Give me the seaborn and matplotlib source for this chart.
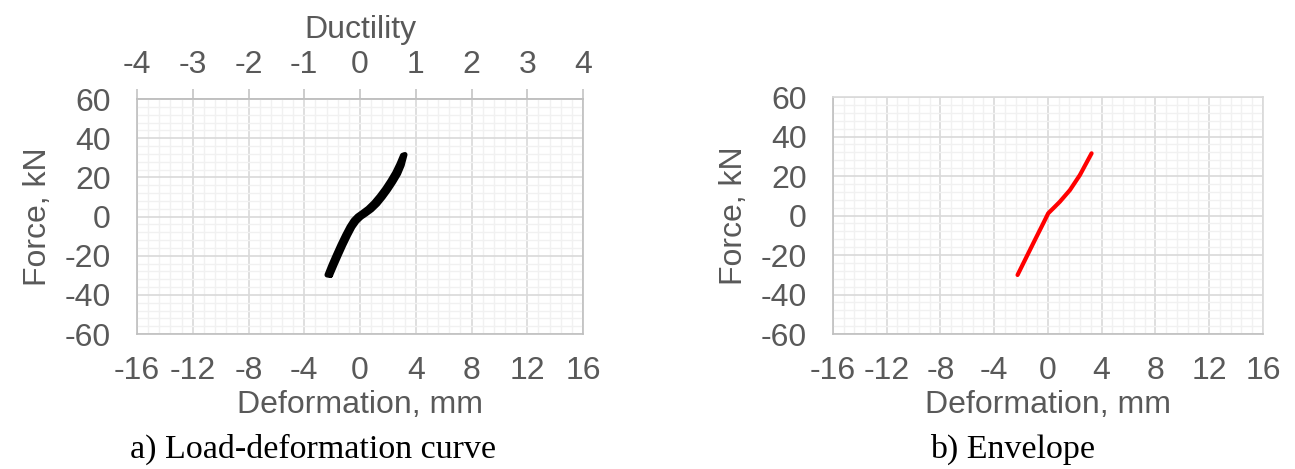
import matplotlib
matplotlib.use("Agg")
import numpy as np
import pandas as pd
import matplotlib.pyplot as plt
from matplotlib.ticker import MultipleLocator
import seaborn as sns

# hysteresis loop (a): loading branch and unloading branch, mm / kN
loop_defo_up = [-2.12, -1.82, -1.50, -1.17, -0.83, -0.52, -0.22, 0.09, 0.42,
                0.84, 1.26, 1.65, 2.04, 2.41, 2.76, 3.02, 3.22]
loop_force_up = [-30.0, -25.0, -19.8, -14.6, -9.6, -5.4, -2.4, -0.3, 1.3,
                 3.5, 6.4, 9.8, 13.6, 17.6, 21.8, 26.2, 31.6]
loop_defo_dn = [3.06, 2.80, 2.50, 2.15, 1.78, 1.38, 0.98, 0.56, 0.15, -0.19,
                -0.49, -0.78, -1.09, -1.43, -1.76, -2.08, -2.36]
loop_force_dn = [31.2, 26.8, 22.4, 18.2, 14.2, 10.4, 7.0, 4.1, 1.9, 0.2,
                 -2.0, -5.2, -9.4, -14.4, -19.6, -24.8, -29.8]

# envelope (b)
env_defo = [-2.26, -1.59, -0.97, -0.35, 0.02, 0.45, 0.89, 1.64, 2.38, 3.25]
env_force = [-30.1, -20.9, -12.4, -4.0, 1.1, 4.0, 7.0, 12.9, 20.5, 31.5]

x_ticks = [-16, -12, -8, -4, 0, 4, 8, 12, 16]
y_ticks = [-60, -40, -20, 0, 20, 40, 60]
ductility_ticks = [-4, -3, -2, -1, 0, 1, 2, 3, 4]
yield_defo = 4.0  # mm per unit ductility

sns.set_style("white")
plt.rcParams["font.family"] = ["Liberation Sans", "DejaVu Sans"]
plt.rcParams["axes.unicode_minus"] = False

TXT = "#595959"
AXC = "#BFBFBF"
MAJ = "#D9D9D9"
MIN = "#F1F1F1"
FS = 23


def style_axes(ax, border_col):
    ax.set_xlim(-16, 16)
    ax.set_ylim(-60, 60)
    ax.set_xticks(x_ticks)
    ax.set_yticks(y_ticks)
    ax.xaxis.set_minor_locator(MultipleLocator(0.8))
    ax.yaxis.set_minor_locator(MultipleLocator(4))
    ax.grid(which="minor", color=MIN, lw=1.0, zorder=0)
    ax.grid(which="major", color=MAJ, lw=1.2, zorder=0)
    ax.set_axisbelow(True)
    ax.tick_params(which="major", direction="out", length=7, width=1.1, color=AXC,
                   labelsize=FS, labelcolor=TXT)
    ax.tick_params(axis="x", pad=9)
    ax.tick_params(axis="y", pad=12)
    ax.tick_params(which="minor", length=0)
    for s in ["left", "bottom"]:
        ax.spines[s].set_color(AXC)
        ax.spines[s].set_linewidth(1.2)
    for s in ["top", "right"]:
        ax.spines[s].set_color(border_col)
        ax.spines[s].set_linewidth(1.2)
    ax.set_xlabel("Deformation, mm", fontsize=FS, color=TXT, labelpad=3)
    ax.set_ylabel("Force, kN", fontsize=FS, color=TXT, labelpad=8)


fig = plt.figure(figsize=(12.95, 4.69), dpi=100)
ax1 = fig.add_axes([0.1058, 0.2878, 0.3444, 0.5011])
ax2 = fig.add_axes([0.6432, 0.2878, 0.3320, 0.5053])

loop = pd.DataFrame({
    "defo": loop_defo_up + loop_defo_dn + [loop_defo_up[0]],
    "force": loop_force_up + loop_force_dn + [loop_force_up[0]],
})
sns.lineplot(data=loop, x="defo", y="force", sort=False, estimator=None,
             color="black", lw=3.8, ax=ax1, zorder=3,
             solid_capstyle="round", solid_joinstyle="round")
style_axes(ax1, AXC)

sec = ax1.secondary_xaxis("top", functions=(lambda x: x / yield_defo, lambda d: d * yield_defo))
sec.set_xticks(ductility_ticks)
sec.tick_params(direction="out", length=7, width=1.1, color=AXC,
                labelsize=FS, labelcolor=TXT, pad=7)
sec.spines["top"].set_color(AXC)
sec.spines["top"].set_linewidth(1.2)
sec.set_xlabel("Ductility", fontsize=FS, color=TXT, labelpad=8)

env = pd.DataFrame({"defo": env_defo, "force": env_force})
sns.lineplot(data=env, x="defo", y="force", sort=False, estimator=None,
             color="#FF0000", lw=3.0, ax=ax2, zorder=3,
             solid_capstyle="round", solid_joinstyle="round")
style_axes(ax2, MAJ)

fig.text(313 / 1295, 1 - 449 / 469, "a) Load-deformation curve", ha="center", va="center",
         fontsize=24.5, family=["Liberation Serif", "DejaVu Serif"], color="black")
fig.text(1013 / 1295, 1 - 449 / 469, "b) Envelope", ha="center", va="center",
         fontsize=24.5, family=["Liberation Serif", "DejaVu Serif"], color="black")

fig.savefig("out.png", dpi=100)
